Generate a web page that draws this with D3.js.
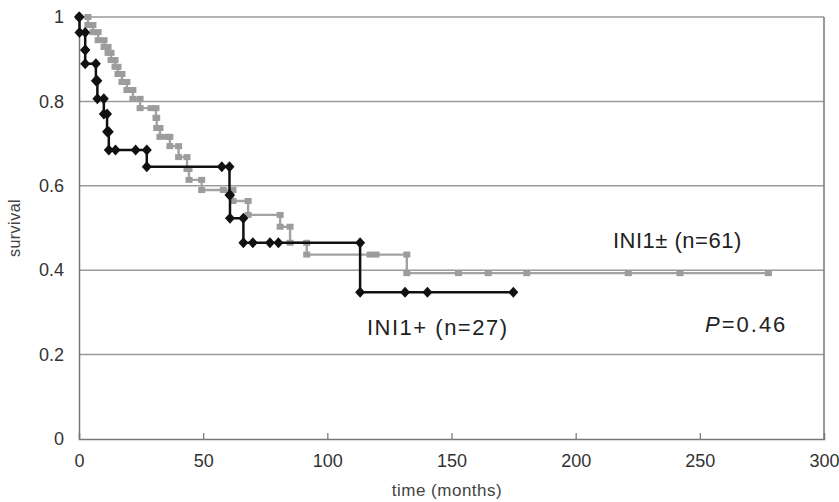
<!DOCTYPE html>
<html>
<head>
<meta charset="utf-8">
<script src="https://cdn.jsdelivr.net/npm/d3@7"></script>
<style>
  body { margin: 0; background: #fff; }
  text { font-family: "Liberation Sans", Arial, sans-serif; }
</style>
</head>
<body>
<script>
// INI1+ (n=27): drop times, survival after each drop, censored times
var blackTimes = [0.2, 2.5, 2.5, 6.8, 7.4, 10, 11.3, 12, 27.3, 60.6, 60.8, 66.2, 113.2];
var blackSurv  = [0.963, 0.922, 0.889, 0.849, 0.806, 0.770, 0.728, 0.685, 0.645, 0.578, 0.523, 0.465, 0.348];
var blackCens  = [14.7, 22.8, 57.5, 70, 76.9, 80.3, 131.3, 140.3, 174.9];

// INI1± (n=61)
var grayTimes = [3.6, 5.6, 7.7, 10.1, 11.7, 12.9, 14.5, 15.7, 17.3, 19.3, 21.7, 24.6, 31, 31.3, 32.6,
                 36.6, 40.1, 43.5, 44.3, 49.4, 62, 68.1, 81, 85, 91.7, 132];
var graySurv  = [0.981, 0.964, 0.945, 0.929, 0.915, 0.898, 0.882, 0.865, 0.846, 0.827, 0.806, 0.784, 0.761, 0.737, 0.716,
                 0.694, 0.668, 0.640, 0.614, 0.590, 0.564, 0.531, 0.503, 0.465, 0.437, 0.393];
var grayCens  = [29, 35.3, 58.1, 117.2, 119.6, 152.8, 164.8, 180.3, 221.2, 242, 277.6];

var xTicks = [0, 50, 100, 150, 200, 250, 300];
var yTicks = [0, 0.2, 0.4, 0.6, 0.8, 1];

var W = 839, H = 502;
var m = {left: 79, top: 17, right: 15, bottom: 63};

var svg = d3.select("body").append("svg")
  .attr("width", W)
  .attr("height", H);

var x = d3.scaleLinear().domain([0, 300]).range([m.left, W - m.right]);
var y = d3.scaleLinear().domain([0, 1]).range([H - m.bottom, m.top]);

// grid
svg.selectAll("line.grid")
  .data(yTicks.filter(function (d) { return d > 0; }))
  .enter().append("line")
  .attr("class", "grid")
  .attr("x1", x(0)).attr("x2", x(300))
  .attr("y1", function (d) { return y(d); })
  .attr("y2", function (d) { return y(d); })
  .attr("stroke", "#9a9a9a")
  .attr("stroke-width", 1.5);

// right border
svg.append("line")
  .attr("x1", x(300)).attr("x2", x(300))
  .attr("y1", y(1)).attr("y2", y(0))
  .attr("stroke", "#777").attr("stroke-width", 1.5);

// axes
var xAxis = svg.append("g")
  .attr("transform", "translate(0," + y(0) + ")")
  .call(d3.axisBottom(x).tickValues(xTicks).tickSize(-6).tickPadding(15).tickFormat(d3.format("d")));
var yAxis = svg.append("g")
  .attr("transform", "translate(" + x(0) + ",0)")
  .call(d3.axisLeft(y).tickValues(yTicks).tickSize(0).tickPadding(15).tickFormat(function (d) { return d === 0 || d === 1 ? d : d.toFixed(1); }));

[xAxis, yAxis].forEach(function (g) {
  g.select(".domain").attr("stroke", "#777").attr("stroke-width", 1.5);
  g.selectAll(".tick line").attr("stroke", "#777").attr("stroke-width", 1.2);
  g.selectAll(".tick text").attr("fill", "#333").style("font-size", "18px");
});
xAxis.selectAll(".tick").filter(function (d) { return d === 0 || d === 300; }).select("line").remove();

// build step vertices
function steps(times, surv) {
  var pts = [[0, 1]];
  var prev = 1;
  for (var i = 0; i < times.length; i++) {
    pts.push([times[i], prev]);
    pts.push([times[i], surv[i]]);
    prev = surv[i];
  }
  return pts;
}
function survAt(times, surv, t) {
  var s = 1;
  for (var i = 0; i < times.length; i++) if (times[i] <= t) s = surv[i];
  return s;
}
function allPts(times, surv, cens) {
  var pts = steps(times, surv);
  cens.forEach(function (t) { pts.push([t, survAt(times, surv, t)]); });
  pts.sort(function (a, b) { return a[0] - b[0] || b[1] - a[1]; });
  return pts;
}

var line = d3.line().x(function (d) { return x(d[0]); }).y(function (d) { return y(d[1]); });

var gray = allPts(grayTimes, graySurv, grayCens);
var black = allPts(blackTimes, blackSurv, blackCens);

svg.append("path").datum(gray)
  .attr("d", line).attr("fill", "none")
  .attr("stroke", "#a3a3a3").attr("stroke-width", 2.4);
svg.selectAll("rect.gm").data(gray).enter().append("rect")
  .attr("class", "gm")
  .attr("x", function (d) { return x(d[0]) - 3.5; })
  .attr("y", function (d) { return y(d[1]) - 3; })
  .attr("width", 7).attr("height", 6)
  .attr("fill", "#9c9c9c");

svg.append("path").datum(black)
  .attr("d", line).attr("fill", "none")
  .attr("stroke", "#111").attr("stroke-width", 2.5);
svg.selectAll("path.bm").data(black).enter().append("path")
  .attr("class", "bm")
  .attr("d", "M0,-5.5L5,0L0,5.5L-5,0Z")
  .attr("transform", function (d) { return "translate(" + x(d[0]) + "," + y(d[1]) + ")"; })
  .attr("fill", "#111");

// labels
svg.append("text").attr("x", 613).attr("y", 248)
  .style("font-size", "22px").style("letter-spacing", "0.5px").attr("fill", "#222").text("INI1\u00b1 (n=61)");
svg.append("text").attr("x", 367).attr("y", 335)
  .style("font-size", "22px").style("letter-spacing", "1.5px").attr("fill", "#222").text("INI1+ (n=27)");
var p = svg.append("text").attr("x", 705).attr("y", 332)
  .style("font-size", "22px").style("letter-spacing", "2px").attr("fill", "#222");
p.append("tspan").style("font-style", "italic").text("P");
p.append("tspan").text("=0.46");

svg.append("text")
  .attr("transform", "translate(20," + ((y(0) + y(1)) / 2) + ") rotate(-90)")
  .attr("text-anchor", "middle")
  .style("font-size", "16px").style("letter-spacing", "0.5px").attr("fill", "#444").text("survival");
svg.append("text")
  .attr("x", 447).attr("y", 496)
  .attr("text-anchor", "middle")
  .style("font-size", "17px").style("letter-spacing", "0.5px").attr("fill", "#444").text("time (months)");
</script>
</body>
</html>
